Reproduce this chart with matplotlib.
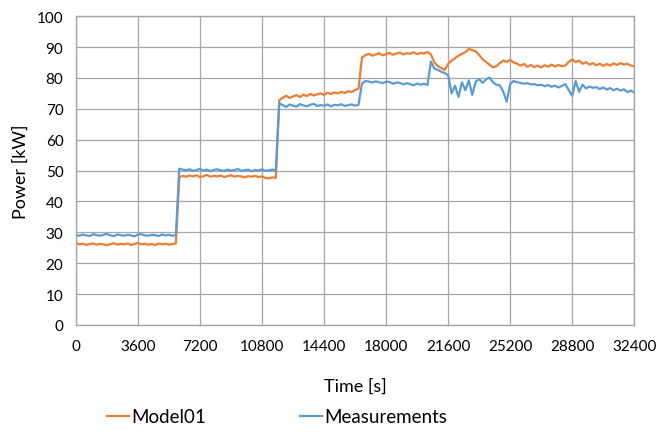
import numpy as np
import matplotlib
matplotlib.use("Agg")
import matplotlib.pyplot as plt

plt.rcParams['font.family'] = ['Lato', 'DejaVu Sans']

# sampling instants [s], one every 200 s
time_s = np.arange(0, 32401, 200)

measurements = [
    # 0 .. 5800
    29.2, 28.9, 29.3, 29.0, 28.8, 29.4, 29.1, 28.9, 29.2, 29.5,
    29.0, 28.8, 29.3, 29.1, 28.9, 29.2, 29.0, 28.7, 29.3, 29.4,
    29.0, 28.9, 29.2, 29.1, 28.8, 29.3, 29.0, 29.2, 28.9, 29.1,
    # 6000 .. 11600
    50.6, 50.3, 50.1, 50.4, 49.9, 50.2, 50.5, 50.0, 50.3, 49.8,
    50.2, 50.4, 50.1, 49.9, 50.3, 50.0, 50.2, 50.5, 49.9, 50.1,
    50.3, 49.8, 50.2, 50.0, 50.4, 49.9, 50.1, 50.3, 50.0,
    # 11800 .. 16400
    71.8, 71.2, 70.6, 71.4, 71.0, 70.7, 71.5, 71.1, 70.8, 71.3,
    71.6, 70.9, 71.2, 71.0, 71.4, 70.8, 71.3, 71.1, 71.5, 70.9,
    71.2, 71.4, 71.0, 71.3,
    # 16600 .. 20400
    78.2, 79.0, 78.8, 78.5, 78.9, 78.6, 78.3, 78.8, 78.7, 78.1,
    78.5, 78.4, 77.9, 78.3, 78.0, 77.6, 78.2, 77.8, 78.1, 77.7,
    # 20600 .. 32400
    85.3, 83.0, 82.6, 82.0, 81.6, 80.9, 75.0, 77.5, 73.8, 78.6,
    76.0, 79.2, 74.5, 78.8, 79.6, 78.4, 79.5, 80.1, 78.6, 77.8,
    77.6, 75.5, 72.3, 78.0, 79.0, 78.6, 78.4, 78.1, 78.3, 77.9,
    78.0, 77.6, 77.8, 77.3, 77.7, 77.1, 77.5, 76.9, 77.4, 78.0,
    76.0, 74.2, 79.0, 75.5, 77.8, 76.6, 77.2, 76.8, 77.0, 76.4,
    76.9, 76.2, 76.7, 76.0, 76.5, 75.9, 76.3, 75.4, 75.9, 75.3,
]

# Model01 power [kW]
model01 = [
    # 0 .. 5800
    26.5, 26.1, 26.3, 25.9, 26.2, 26.4, 26.0, 26.3, 26.1, 25.8,
    26.2, 26.5, 26.0, 26.3, 26.1, 26.4, 25.9, 26.2, 26.6, 26.1,
    26.3, 26.0, 26.2, 25.9, 26.4, 26.1, 26.3, 26.0, 26.2, 26.4,
    # 6000 .. 11600
    47.8, 48.3, 48.0, 48.4, 48.1, 48.5, 47.9, 48.2, 48.6, 48.0,
    48.3, 48.1, 48.4, 47.9, 48.2, 48.5, 48.0, 48.3, 48.1, 47.8,
    48.2, 48.0, 48.3, 47.9, 48.1, 47.6, 47.5, 47.8, 47.6,
    # 11800 .. 16400
    72.8, 73.6, 74.2, 73.5, 74.0, 74.4, 73.8, 74.6, 74.1, 74.8,
    74.3, 74.7, 75.0, 74.5, 75.2, 74.8, 75.3, 75.0, 75.5, 75.1,
    75.7, 75.4, 76.1, 76.5,
    # 16600 .. 20400
    86.6, 87.4, 87.8, 87.2, 87.6, 88.0, 87.3, 87.7, 88.1, 87.5,
    87.9, 88.2, 87.6, 88.0, 87.8, 88.3, 87.7, 88.1, 87.9, 88.4,
    # 20600 .. 32400
    87.6, 85.0, 83.8, 83.2, 82.6, 84.5, 85.6, 86.4, 87.2, 87.8,
    88.3, 89.4, 89.0, 88.6, 87.4, 86.0, 85.2, 84.3, 83.4, 83.8,
    84.8, 85.6, 85.2, 85.8, 85.0, 84.6, 84.0, 84.5, 83.6, 84.2,
    83.5, 84.0, 83.4, 84.1, 83.6, 84.3, 83.7, 84.2, 83.8, 84.0,
    85.2, 86.0, 85.1, 85.6, 84.6, 85.1, 84.3, 84.8, 84.1, 84.6,
    83.9, 84.5, 84.0, 84.7, 84.2, 84.8, 84.3, 84.6, 84.0, 83.8,
]

x_ticks = list(range(0, 32401, 3600))
y_ticks = list(range(0, 101, 10))

fig = plt.figure(figsize=(6.6, 4.35), dpi=100)
ax = fig.add_axes([0.115, 0.2506, 0.846, 0.71])

ax.plot(time_s, model01, color='#ED7D31', lw=1.6, label='Model01')
ax.plot(time_s, measurements, color='#5B9BD5', lw=1.6, label='Measurements')

ax.set_xlim(0, 32400)
ax.set_ylim(0, 100)
ax.set_xticks(x_ticks)
ax.set_yticks(y_ticks)
ax.grid(True, color='#a6a6a6', lw=0.9)
ax.set_axisbelow(True)
for sp in ax.spines.values():
    sp.set_color('#a6a6a6')
    sp.set_linewidth(1.0)
ax.tick_params(axis='both', length=0, labelsize=11, colors='#000000')
ax.tick_params(axis='x', pad=10)
ax.tick_params(axis='y', pad=9)

ax.set_xlabel('Time [s]', fontsize=13, labelpad=18)
ax.set_ylabel('Power [kW]', fontsize=13, labelpad=6)

# legend sits below the plot, a little left of centre
fig.legend(loc='center left', bbox_to_anchor=(0.162, 0.04), ncol=2, frameon=False,
           fontsize=13.5, handlelength=1.2, handletextpad=0.1, columnspacing=5.0,
           borderpad=0, borderaxespad=0)

fig.savefig('out.png', dpi=100)
